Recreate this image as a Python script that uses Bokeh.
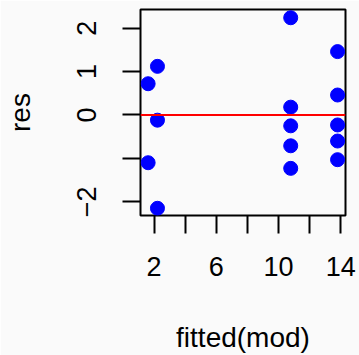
from bokeh.plotting import figure
from bokeh.models import Range1d, FixedTicker, Span
from bokeh.embed import file_html
from bokeh.resources import INLINE

fitted = [1.62, 1.62, 2.22, 2.22, 2.22,
          10.78, 10.78, 10.78, 10.78, 10.78,
          13.79, 13.79, 13.79, 13.79, 13.79]
res = [0.72, -1.10, 1.12, -0.12, -2.15,
       2.24, 0.18, -0.25, -0.71, -1.23,
       1.46, 0.46, -0.23, -0.60, -1.03]
x_ticks = [2, 4, 6, 8, 10, 12, 14]
x_labels = {2: "2", 4: "", 6: "6", 8: "", 10: "10", 12: "", 14: "14"}
y_ticks = [-2, -1, 0, 1, 2]
y_labels = {-2: "−2", -1: "", 0: "0", 1: "1", 2: "2"}

FONT = "Liberation Sans"
BG = "#fafafa"

p = figure(width=359, height=355, output_backend="svg", toolbar_location=None,
           x_range=Range1d(1.13, 14.3), y_range=Range1d(-2.316, 2.43),
           min_border_left=140, min_border_right=14, min_border_top=9, min_border_bottom=140)
p.background_fill_color = BG
p.border_fill_color = BG
p.grid.visible = False
p.outline_line_color = "black"
p.outline_line_width = 2

p.scatter(fitted, res, size=14, color="blue", line_color="blue")
p.add_layout(Span(location=0, dimension="width", line_color="red", line_width=2))

for ax, ticks, labels in [(p.xaxis[0], x_ticks, x_labels), (p.yaxis[0], y_ticks, y_labels)]:
    ax.ticker = FixedTicker(ticks=ticks)
    ax.major_label_overrides = labels
    ax.minor_tick_line_color = None
    ax.major_tick_out = 18
    ax.major_tick_in = 0
    ax.major_tick_line_width = 2
    ax.axis_line_color = None
    ax.major_label_text_font = FONT
    ax.major_label_text_font_size = "27px"
    ax.major_label_text_color = "black"
    ax.axis_label_text_font = FONT
    ax.axis_label_text_font_size = "28px"
    ax.axis_label_text_font_style = "normal"
    ax.axis_label_text_color = "black"

p.xaxis.axis_label = "fitted(mod)"
p.yaxis.axis_label = "res"
p.xaxis.major_label_standoff = 23
p.yaxis.major_label_standoff = 26
p.yaxis.major_label_orientation = "vertical"
p.xaxis.axis_label_standoff = 43
p.yaxis.axis_label_standoff = 39

open("out.html", "w").write(file_html(p, INLINE))
